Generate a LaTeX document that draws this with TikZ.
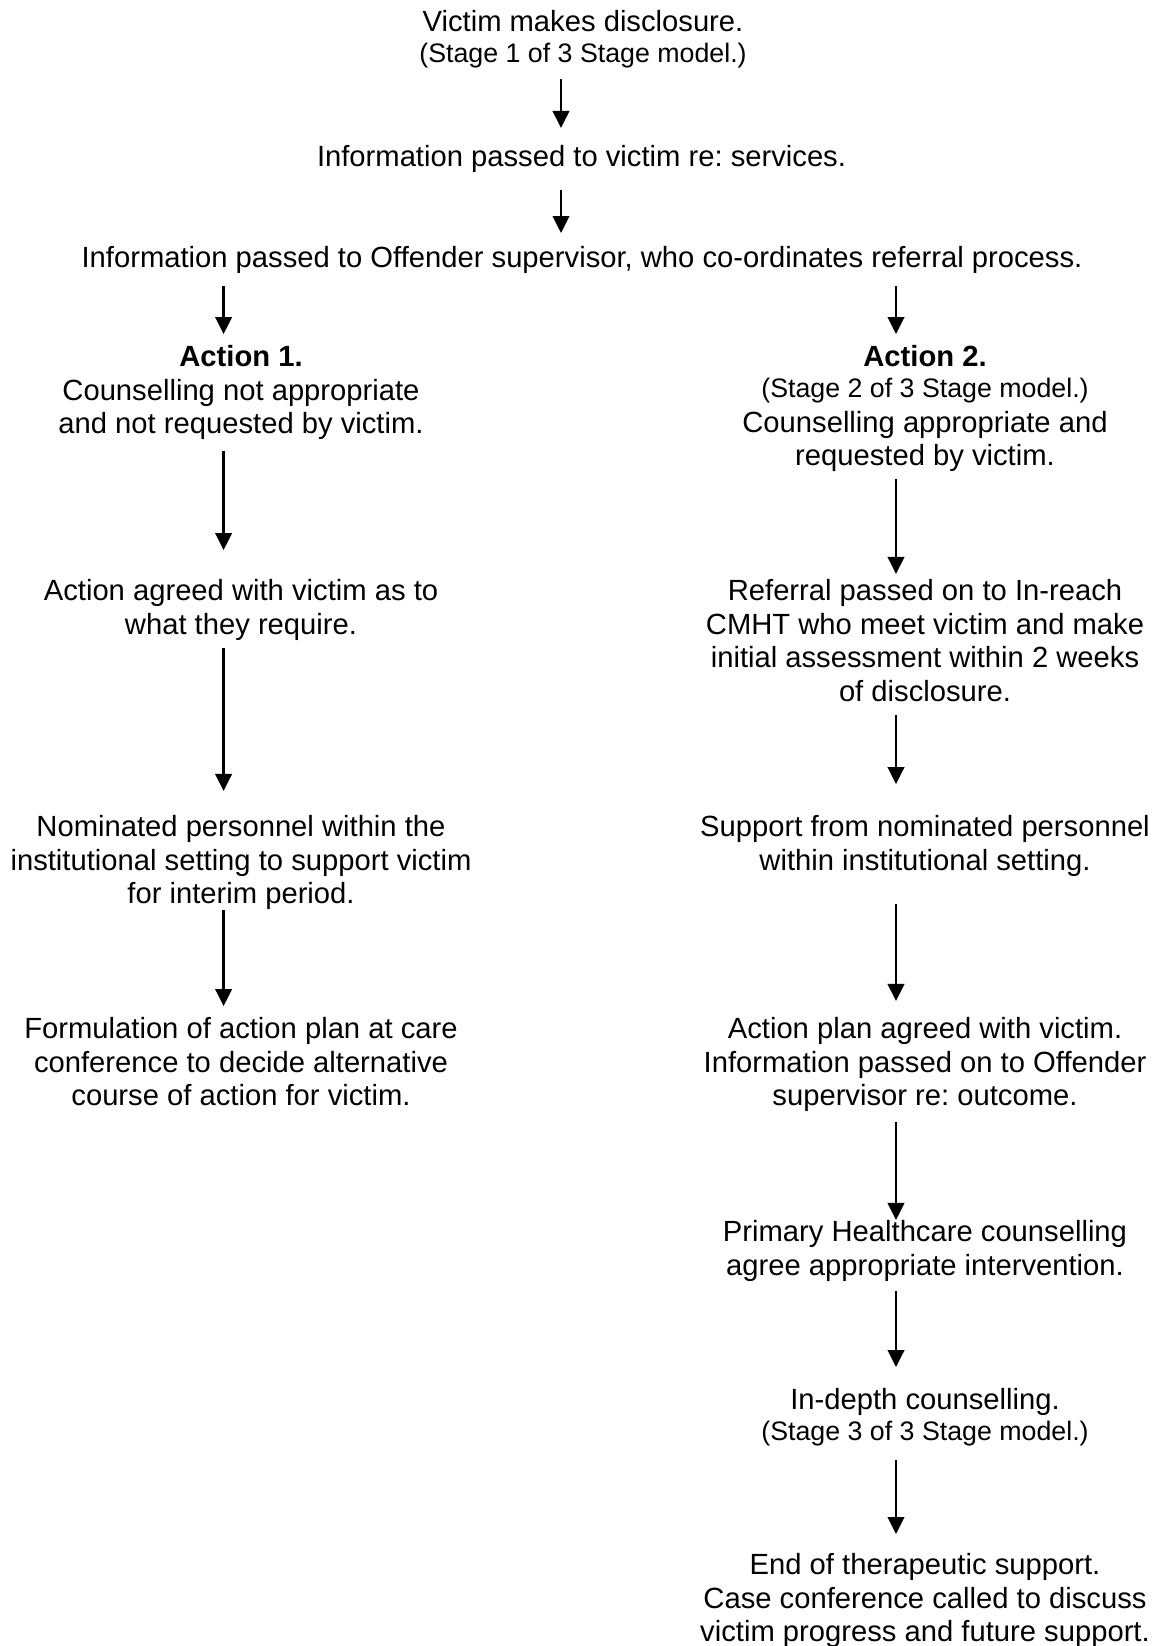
\documentclass[tikz,border=0pt]{standalone}
\usepackage{fontspec}
\setmainfont{Liberation Sans}
\usetikzlibrary{arrows.meta}
\newcommand\stagefont{\fontsize{11pt}{13.8pt}\selectfont}
\begin{document}
\frenchspacing
\begin{tikzpicture}[x=0.411pt,y=-0.411pt,
  txt/.style={anchor=north,align=center,inner sep=0pt,
    font=\fontsize{12pt}{13.8pt}\selectfont\frenchspacing,
    execute at begin node=\strut,execute at end node=\strut},
  arr/.style={line width=1.0pt,-{Triangle[length=7pt,width=6.8pt]}}]
\fill[white] (0,0) rectangle (1159,1646);
\useasboundingbox (0,0) rectangle (1159,1646);

\coordinate (cT) at (561,0);
\coordinate (cL) at (223.6,0);
\coordinate (cR) at (896,0);

% top
\node[txt] (n1) at (583,10) {Victim makes disclosure.\\[-1.3pt]{\stagefont (Stage 1 of 3 Stage model.)}};
\node[txt] (n2) at (581.5,143) {Information passed to victim re: services.};
\node[txt] (n3) at (582,244) {Information passed to Offender supervisor, who co-ordinates referral process.};

% left column
\node[txt] (L1) at (241,345) {\textbf{Action 1.}\\Counselling not appropriate\\and not requested by victim.};
\node[txt] (L2) at (241,579) {Action agreed with victim as to\\what they require.};
\node[txt] (L3) at (241,815) {Nominated personnel within the\\institutional setting to support victim\\for interim period.};
\node[txt] (L4) at (241,1017) {Formulation of action plan at care\\conference to decide alternative\\course of action for victim.};

% right column
\node[txt] (R1) at (925,345) {\textbf{Action 2.}\\[-1.3pt]{\stagefont (Stage 2 of 3 Stage model.)}\\[0.6pt]Counselling appropriate and\\requested by victim.};
\node[txt] (R2) at (925,579) {Referral passed on to In-reach\\CMHT who meet victim and make\\initial assessment within 2 weeks\\of disclosure.};
\node[txt] (R3) at (925,815) {Support from nominated personnel\\within institutional setting.};
\node[txt] (R4) at (925,1017) {Action plan agreed with victim.\\Information passed on to Offender\\supervisor re: outcome.};
\node[txt] (R5) at (925,1220) {Primary Healthcare counselling\\agree appropriate intervention.};
\node[txt] (R6) at (925,1388) {In-depth counselling.\\[-1.3pt]{\stagefont (Stage 3 of 3 Stage model.)}};
\node[txt] (R7) at (925,1553) {End of therapeutic support.\\Case conference called to discuss\\victim progress and future support.};

% connectors
\draw[arr,shorten <=2.5pt,shorten >=6.2pt] (n1.south -| cT) -- (n2.north -| cT);
\draw[arr,shorten <=5.1pt,shorten >=4.5pt] (n2.south -| cT) -- (n3.north -| cT);
\draw[arr,shorten <=3.1pt,shorten >=4.5pt] (n3.south -| cL) -- (L1.north -| cL);
\draw[arr,shorten <=3.1pt,shorten >=4.5pt] (n3.south -| cR) -- (R1.north -| cR);

\draw[arr,shorten <=2.7pt,shorten >=11.9pt] (L1.south -| cL) -- (L2.north -| cL);
\draw[arr,shorten <=1.2pt,shorten >=9.9pt] (L2.south -| cL) -- (L3.north -| cL);
\draw[arr,shorten <=-1.8pt,shorten >=4.5pt] (L3.south -| cL) -- (L4.north -| cL);

\draw[arr,shorten <=1.2pt,shorten >=2.1pt] (R1.south -| cR) -- (R2.north -| cR);
\draw[arr,shorten <=1.4pt,shorten >=12.7pt] (R2.south -| cR) -- (R3.north -| cR);
\draw[arr,shorten <=9.7pt,shorten >=6.6pt] (R3.south -| cR) -- (R4.north -| cR);
\draw[arr,shorten <=2.3pt,shorten >=0pt] (R4.south -| cR) -- (R5.north -| cR);
\draw[arr,shorten <=2.3pt,shorten >=8.6pt] (R5.south -| cR) -- (R6.north -| cR);
\draw[arr,shorten <=3.7pt,shorten >=7.8pt] (R6.south -| cR) -- (R7.north -| cR);
\end{tikzpicture}
\end{document}
